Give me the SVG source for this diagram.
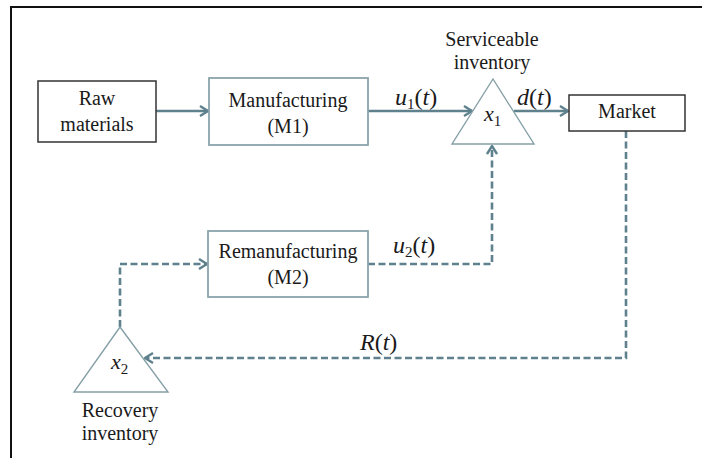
<svg xmlns="http://www.w3.org/2000/svg" width="702" height="458" viewBox="0 0 702 458">
  <style>
    text { font-size: 20px; fill: #1a1a1a; }
    .c { text-anchor: middle; }
    .m { font-style: italic; font-size: 24px; }
    .v { font-style: italic; font-size: 22px; }
    .up { font-style: normal; }
    .sub { font-style: normal; font-size: 15px; }
    .box-dark { fill: #fff; stroke: #333; stroke-width: 1.5; }
    .box-light { fill: #fff; stroke: #8aa4ab; stroke-width: 1.8; }
    .tri { fill: #fff; stroke: #86a0a8; stroke-width: 1.4; }
    .flow { fill: none; stroke: #5e818d; stroke-width: 2.6; }
    .dash { stroke-dasharray: 7 3.5; }
  </style>
  <defs>
    <marker id="chev" viewBox="0 0 10 12" refX="9" refY="6" markerWidth="10" markerHeight="12" markerUnits="userSpaceOnUse" orient="auto">
      <path d="M1,1 L9,6 L1,11" fill="none" stroke="#5e818d" stroke-width="2.4" stroke-linejoin="miter"/>
    </marker>
  </defs>

  <rect x="0" y="0" width="702" height="458" fill="#fff"/>
  <!-- outer frame -->
  <rect x="11" y="7" width="720" height="480" fill="none" stroke="#111" stroke-width="2"/>

  <!-- connectors -->
  <g id="connectors">
    <line class="flow" x1="156" y1="111" x2="208" y2="111" marker-end="url(#chev)"/>
    <line class="flow" x1="368" y1="111" x2="472" y2="111" marker-end="url(#chev)"/>
    <line class="flow" x1="514" y1="111" x2="568" y2="111" marker-end="url(#chev)"/>
    <polyline class="flow dash" points="368,264 492,264 492,146" marker-end="url(#chev)"/>
    <polyline class="flow dash" points="626,131 626,358 145,358" marker-end="url(#chev)"/>
    <polyline class="flow dash" points="120,327 120,264 207,264" marker-end="url(#chev)"/>
  </g>

  <g font-family="Liberation Serif, Tinos, Times New Roman, DejaVu Serif, serif">
    <g id="raw-materials">
      <rect class="box-dark" x="38" y="81" width="118" height="61"/>
      <text class="c" x="97" y="105">Raw</text>
      <text class="c" x="97" y="131">materials</text>
    </g>

    <g id="manufacturing">
      <rect class="box-light" x="209" y="78" width="159" height="67"/>
      <text class="c" x="288" y="107">Manufacturing</text>
      <text class="c" x="288" y="133">(M1)</text>
    </g>

    <g id="serviceable-inventory">
      <polygon class="tri" points="493,79 534,144 452,144"/>
      <text class="c" x="492" y="46">Serviceable</text>
      <text class="c" x="492" y="69">inventory</text>
      <text x="484" y="121" class="v">x<tspan class="sub" dy="5">1</tspan></text>
    </g>

    <g id="market">
      <rect class="box-dark" x="569" y="95" width="116" height="36"/>
      <text class="c" x="627" y="118">Market</text>
    </g>

    <g id="remanufacturing">
      <rect class="box-light" x="208" y="231" width="160" height="66"/>
      <text class="c" x="288" y="258">Remanufacturing</text>
      <text class="c" x="288" y="284">(M2)</text>
    </g>

    <g id="recovery-inventory">
      <polygon class="tri" points="120,327 168,392 74,392"/>
      <text x="111" y="369" class="v">x<tspan class="sub" dy="5">2</tspan></text>
      <text class="c" x="120" y="417">Recovery</text>
      <text class="c" x="120" y="440">inventory</text>
    </g>

    <!-- flow labels -->
    <g id="labels">
      <text x="395" y="105" class="m">u<tspan class="sub" dy="4">1</tspan><tspan class="up" dy="-4">(</tspan>t<tspan class="up">)</tspan></text>
      <text x="517" y="105" class="m">d<tspan class="up">(</tspan>t<tspan class="up">)</tspan></text>
      <text x="393" y="253" class="m">u<tspan class="sub" dy="4">2</tspan><tspan class="up" dy="-4">(</tspan>t<tspan class="up">)</tspan></text>
      <text x="360" y="350" class="m">R<tspan class="up">(</tspan>t<tspan class="up">)</tspan></text>
    </g>
  </g>
</svg>
